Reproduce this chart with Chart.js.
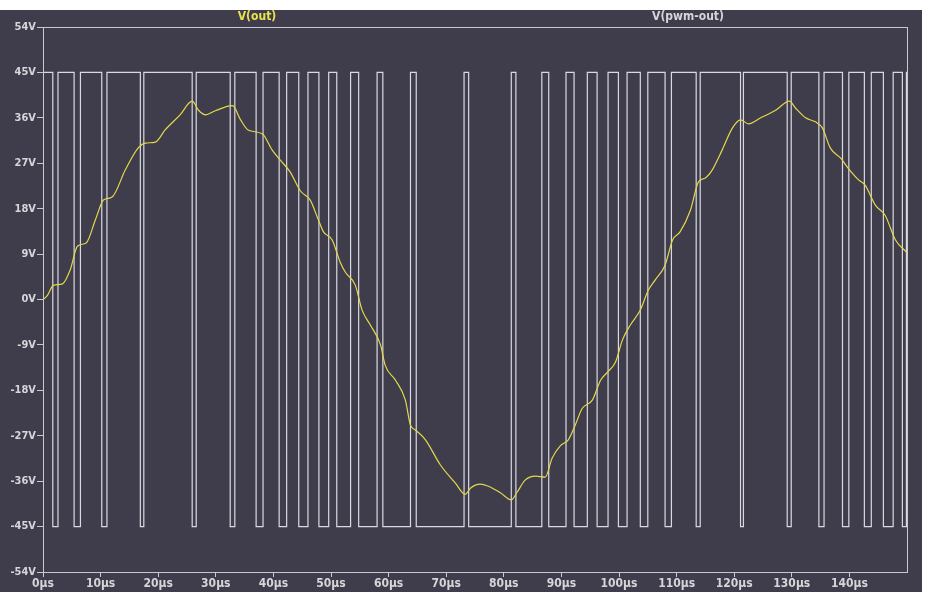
<!DOCTYPE html>
<html>
<head>
<meta charset="utf-8">
<script src="https://cdn.jsdelivr.net/npm/chart.js@4.4.1/dist/chart.umd.min.js"></script>
<style>
  html,body{margin:0;padding:0;background:#ffffff;}
  #wrap{position:absolute;left:0;top:0;width:931px;height:592px;}
</style>
</head>
<body>
<div id="wrap"><canvas id="c" width="931" height="592"></canvas></div>
<script>
// ---- series names ----
const seriesNames = ["V(out)", "V(pwm-out)"];

// ---- axis ticks ----
const xTickValues = [0,10,20,30,40,50,60,70,80,90,100,110,120,130,140];
const yTickValues = [-54,-45,-36,-27,-18,-9,0,9,18,27,36,45,54];

// ---- V(pwm-out): edge times (µs) and level after each edge (V) ----
const pwmTimes = [0,1.7,2.6,5.4,6.5,10.2,11.1,16.9,17.5,25.9,26.6,32.5,33.3,37.0,38.2,41.0,42.3,44.4,46.0,47.9,
  49.6,51.0,53.4,54.8,58.0,59.0,63.8,64.8,73.1,73.9,81.3,82.1,86.6,87.8,90.8,92.2,94.5,96.2,98.1,99.9,
  101.4,103.7,105.0,108.0,109.1,113.4,114.1,121.1,121.6,129.2,129.9,134.7,135.6,138.8,139.9,142.6,143.8,145.9,147.6,149.2,
  149.9,150];
const pwmLevels = [45,-45,45,-45,45,-45,45,-45,45,-45,45,-45,45,-45,45,-45,45,-45,45,-45,
  45,-45,45,-45,45,-45,45,-45,45,-45,45,-45,45,-45,45,-45,45,-45,45,-45,
  45,-45,45,-45,45,-45,45,-45,45,-45,45,-45,45,-45,45,-45,45,-45,45,-45,
  45,45];

// ---- V(out): filtered output (µs, V) ----
const voutTimes = [0,0.7,1.8,3.4,4.7,6.0,7.5,9.1,10.5,12.0,14.3,16.5,17.8,19.5,21.2,23.8,25.9,27.0,28.2,29.9,
  32.9,34.3,35.6,38.1,39.8,41.2,42.9,44.7,46.4,47.8,48.7,50.2,51.6,52.5,54.2,55.4,56.8,58.6,59.4,61.2,
  62.9,63.8,64.7,66.4,69.0,71.6,73.3,74.2,75.9,77.7,79.4,81.3,82.3,83.7,85.5,87.2,88.4,89.8,91.2,92.4,
  93.6,95.4,96.8,98.0,99.4,100.6,102.0,103.7,105.1,106.3,108.0,109.3,110.6,112.4,113.8,115.0,116.2,117.9,119.7,121.1,
  122.5,124.6,127.2,129.6,130.6,132.4,134.1,135.3,136.7,138.5,139.8,141.6,142.7,144.5,146.2,148.0,149.9];
const voutValues = [0,0.7,2.8,3.1,5.8,10.6,11.2,15.8,19.7,20.3,25.7,30.0,31.0,31.2,33.6,36.6,39.3,37.5,36.6,37.4,
  38.4,35.6,33.6,32.8,29.6,27.6,25.3,21.5,19.7,15.8,13.4,11.8,7.4,5.4,2.9,-2.1,-5.0,-9.0,-13.0,-16.0,
  -19.9,-24.9,-25.9,-27.8,-32.8,-36.4,-38.6,-37.4,-36.6,-37.2,-38.3,-39.7,-38.2,-35.8,-35.0,-35.2,-31.4,-29.0,-27.8,-24.9,
  -21.6,-19.9,-16.0,-14.4,-12.4,-8.0,-5.0,-2.1,1.9,3.9,6.8,11.8,13.4,17.7,23.3,24.1,25.7,29.6,34.0,35.6,
  34.8,36.0,37.5,39.3,38.0,36.0,35.2,34.0,30.0,28.0,26.0,23.7,22.7,18.7,16.7,11.8,9.4];

const pwmPoints = pwmTimes.map((t,i)=>({x:t,y:pwmLevels[i]}));
const voutPoints = voutTimes.map((t,i)=>({x:t,y:voutValues[i]}));

const BG = '#3f3d4b';
const FRAME = '#c9c9cf';
const TXT = '#d6d6da';
const FONT = "'Liberation Sans Narrow','DejaVu Sans Condensed','Liberation Sans',sans-serif";

const backgroundPlugin = {
  id:'bg',
  beforeDraw(chart){
    const ctx = chart.ctx;
    ctx.save();
    ctx.fillStyle = '#ffffff';
    ctx.fillRect(0,0,chart.width,chart.height);
    ctx.fillStyle = BG;
    ctx.fillRect(0,10,922,chart.height-10);
    ctx.restore();
  },
  afterDatasetsDraw(chart){
    const a = chart.chartArea, ctx = chart.ctx;
    ctx.save();
    ctx.strokeStyle = FRAME;
    ctx.lineWidth = 1;
    ctx.strokeRect(Math.round(a.left)+0.5, Math.round(a.top)+0.5, Math.round(a.right-a.left), Math.round(a.bottom-a.top));
    // series labels above plot
    ctx.font = "bold 12px " + FONT;
    ctx.textAlign = 'center';
    ctx.textBaseline = 'middle';
    ctx.fillStyle = '#ece44e';
    ctx.fillText(seriesNames[0], 257, 17);
    ctx.fillStyle = TXT;
    ctx.fillText(seriesNames[1], 688, 17);
    ctx.restore();
  }
};

new Chart(document.getElementById('c'), {
  type:'line',
  data:{
    datasets:[
      {label:seriesNames[0], data:voutPoints, borderColor:'#e2d84a', borderWidth:1.2, pointRadius:0,
       cubicInterpolationMode:'monotone', fill:false},
      {label:seriesNames[1], data:pwmPoints, borderColor:'#d9d9e2', borderWidth:1.2, pointRadius:0,
       stepped:true, fill:false}
    ]
  },
  plugins:[backgroundPlugin],
  options:{
    responsive:false, animation:false, devicePixelRatio:1,
    layout:{padding:{top:27,right:24,left:0,bottom:0}},
    plugins:{legend:{display:false}, tooltip:{enabled:false}},
    scales:{
      x:{type:'linear', min:0, max:150,
        afterBuildTicks(s){ s.ticks = xTickValues.map(v=>({value:v})); },
        afterFit(s){ s.height = 20; },
        grid:{display:true, drawOnChartArea:false, drawTicks:true, tickLength:5, color:FRAME},
        border:{display:false},
        ticks:{color:TXT, padding:0, maxRotation:0, autoSkip:false,
          font:{family:FONT, size:12, weight:'bold'},
          callback:(v)=>v+'µs'}
      },
      y:{type:'linear', min:-54, max:54,
        afterBuildTicks(s){ s.ticks = yTickValues.map(v=>({value:v})); },
        afterFit(s){ s.width = 43; },
        grid:{display:true, drawOnChartArea:false, drawTicks:true, tickLength:6, color:FRAME},
        border:{display:false},
        ticks:{color:TXT, padding:1, autoSkip:false,
          font:{family:FONT, size:11, weight:'bold'},
          callback:(v)=>v+'V'}
      }
    }
  }
});
</script>
</body>
</html>
